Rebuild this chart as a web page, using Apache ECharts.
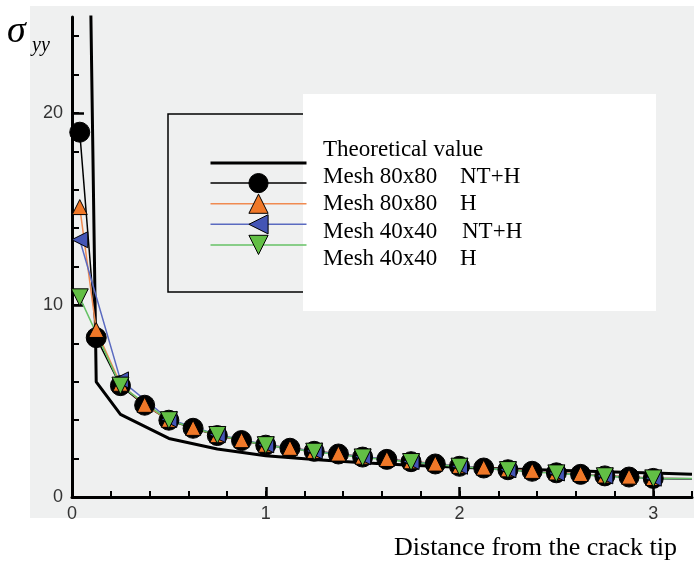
<!DOCTYPE html>
<html>
<head>
<meta charset="utf-8">
<script src="https://cdn.jsdelivr.net/npm/echarts@6/dist/echarts.min.js"></script>
<style>
  html, body { margin: 0; padding: 0; background: #fff; }
  #chart { width: 694px; height: 565px; }
</style>
</head>
<body>
<div id="chart"></div>
<script>
// sigma_yy ahead of the crack tip: theory vs. two mesh sizes, with/without NT.

const theoryX = [0.05, 0.125, 0.25, 0.5, 0.75, 1.0, 1.25, 1.5, 1.75, 2.0, 2.25, 2.5, 2.75, 3.0, 3.2];
const theoryY = [58, 6.0, 4.3, 3.05, 2.5, 2.15, 1.95, 1.78, 1.65, 1.55, 1.46, 1.39, 1.32, 1.25, 1.18];

// 80x80 mesh sample points (marker at every one but the last)
const fineX = [0.04, 0.125, 0.25, 0.375, 0.5, 0.625, 0.75, 0.875, 1.0, 1.125, 1.25, 1.375, 1.5,
               1.625, 1.75, 1.875, 2.0, 2.125, 2.25, 2.375, 2.5, 2.625, 2.75, 2.875, 3.0, 3.2];
const fineNTH = [19.0, 8.3, 5.8, 4.78, 4.0, 3.58, 3.2, 2.94, 2.7, 2.54, 2.38, 2.24, 2.08, 1.96, 1.84,
                 1.72, 1.6, 1.51, 1.42, 1.34, 1.26, 1.18, 1.1, 1.04, 0.97, 0.92];
const fineH = [15.1, 8.7, 5.9, 4.8, 4.02, 3.6, 3.22, 2.96, 2.72, 2.56, 2.4, 2.26, 2.1, 1.98, 1.86,
               1.74, 1.62, 1.53, 1.44, 1.36, 1.28, 1.2, 1.12, 1.06, 0.99, 0.95];

// 40x40 mesh sample points
const coarseX = [0.04, 0.25, 0.5, 0.75, 1.0, 1.25, 1.5, 1.75, 2.0, 2.25, 2.5, 2.75, 3.0, 3.2];
const coarseNTH = [13.4, 6.1, 4.05, 3.25, 2.72, 2.4, 2.1, 1.85, 1.6, 1.42, 1.25, 1.1, 0.98, 0.95];
const coarseH = [10.4, 5.8, 4.0, 3.23, 2.7, 2.36, 2.06, 1.82, 1.58, 1.4, 1.23, 1.08, 0.97, 0.96];

const names = ['Theoretical value', 'Mesh 80x80   NT+H', 'Mesh 80x80   H', 'Mesh 40x40   NT+H', 'Mesh 40x40   H'];

const pairs = (xs, ys) => xs.map((x, i) =>
  i === xs.length - 1 ? { value: [x, ys[i]], symbol: 'none' } : [x, ys[i]]);

const LABEL = { color: '#333', fontSize: 18, fontFamily: 'Liberation Sans' };
const SERIF = '"Liberation Serif", "Times New Roman", serif';

function markSeries(name, xs, ys, opts) {
  return {
    name, type: 'line', xAxisIndex: 0, yAxisIndex: 0,
    data: pairs(xs, ys), showSymbol: true, showAllSymbol: true,
    symbol: opts.symbol, symbolSize: opts.size, symbolRotate: opts.rotate || 0,
    lineStyle: { color: opts.line, width: 1.5 },
    itemStyle: { color: opts.fill, borderColor: '#000', borderWidth: 1 },
    emphasis: { disabled: true },
  };
}

const chart = echarts.init(document.getElementById('chart'));
chart.setOption({
  animation: false,
  backgroundColor: '#fff',
  grid: [
    // A: data + axis lines
    { left: 72, top: 17, width: 620, height: 480, outerBoundsMode: 'none', containLabel: false },
    // B: minor ticks (0..3.2 x 0..24)
    { left: 72, top: 36.2, width: 620, height: 460.8, outerBoundsMode: 'none', containLabel: false },
    // C: major ticks + labels (0..3 x 0..20)
    { left: 72, top: 113, width: 581.25, height: 384, outerBoundsMode: 'none', containLabel: false },
  ],
  xAxis: [
    { type: 'value', gridIndex: 0, min: 0, max: 3.2,
      axisLine: { show: true, lineStyle: { color: '#000', width: 3 } },
      axisTick: { show: false }, axisLabel: { show: false }, splitLine: { show: false } },
    { type: 'value', gridIndex: 1, min: 0, max: 3.2, interval: 0.2,
      axisLine: { show: false },
      axisTick: { show: true, inside: true, length: 6, lineStyle: { color: '#000', width: 2 } },
      axisLabel: { show: false }, splitLine: { show: false } },
    { type: 'value', gridIndex: 2, min: 0, max: 3, interval: 1,
      axisLine: { show: false },
      axisTick: { show: true, inside: true, length: 10, lineStyle: { color: '#000', width: 2.5 } },
      axisLabel: { ...LABEL, margin: 8 }, splitLine: { show: false } },
  ],
  yAxis: [
    { type: 'value', gridIndex: 0, min: 0, max: 25,
      axisLine: { show: true, lineStyle: { color: '#000', width: 3 } },
      axisTick: { show: false }, axisLabel: { show: false }, splitLine: { show: false } },
    { type: 'value', gridIndex: 1, min: 0, max: 24, interval: 2,
      axisLine: { show: false },
      axisTick: { show: true, inside: true, length: 7, lineStyle: { color: '#000', width: 2 } },
      axisLabel: { show: false }, splitLine: { show: false } },
    { type: 'value', gridIndex: 2, min: 0, max: 20, interval: 10,
      axisLine: { show: false },
      axisTick: { show: true, inside: true, length: 12, lineStyle: { color: '#000', width: 2.5 } },
      axisLabel: { ...LABEL, margin: 9 }, splitLine: { show: false } },
  ],
  legend: {
    orient: 'vertical', left: 209, top: 151, padding: 0, z: 5,
    itemWidth: 96, itemHeight: 24, itemGap: -1.5, selectedMode: false,
    formatter: () => '',
    data: [
      { name: names[0], itemStyle: { opacity: 0 }, lineStyle: { width: 3, color: '#000' } },
      { name: names[1], lineStyle: { width: 1.5, color: '#000' }, itemStyle: { borderWidth: 1, borderColor: '#000' } },
      { name: names[2], lineStyle: { width: 1.5, color: '#f08a50' }, itemStyle: { borderWidth: 1, borderColor: '#000' } },
      { name: names[3], lineStyle: { width: 1.5, color: '#5a6ac0' }, itemStyle: { borderWidth: 1, borderColor: '#000' } },
      { name: names[4], lineStyle: { width: 1.5, color: '#66c266' }, itemStyle: { borderWidth: 1, borderColor: '#000' } },
    ],
  },
  graphic: [
    { type: 'rect', z: -10, silent: true, shape: { x: 30, y: 6, width: 664, height: 512 }, style: { fill: '#eff0f0' } },
    { type: 'rect', z: 1, silent: true, shape: { x: 168, y: 114, width: 200, height: 178 },
      style: { fill: 'none', stroke: '#000', lineWidth: 1.5 } },
    { type: 'rect', z: 2, silent: true, shape: { x: 303, y: 94, width: 353, height: 217 }, style: { fill: '#fff' } },
    { type: 'text', z: 6, silent: true, style: { text: 'Theoretical value', x: 323, y: 150, font: '23px ' + SERIF, fill: '#000', verticalAlign: 'middle' } },
    { type: 'text', z: 6, silent: true, style: { text: 'Mesh 80x80', x: 323, y: 177, font: '23px ' + SERIF, fill: '#000', verticalAlign: 'middle' } },
    { type: 'text', z: 6, silent: true, style: { text: 'NT+H', x: 460, y: 177, font: '23px ' + SERIF, fill: '#000', verticalAlign: 'middle' } },
    { type: 'text', z: 6, silent: true, style: { text: 'Mesh 80x80', x: 323, y: 204, font: '23px ' + SERIF, fill: '#000', verticalAlign: 'middle' } },
    { type: 'text', z: 6, silent: true, style: { text: 'H', x: 460, y: 204, font: '23px ' + SERIF, fill: '#000', verticalAlign: 'middle' } },
    { type: 'text', z: 6, silent: true, style: { text: 'Mesh 40x40', x: 323, y: 232, font: '23px ' + SERIF, fill: '#000', verticalAlign: 'middle' } },
    { type: 'text', z: 6, silent: true, style: { text: 'NT+H', x: 462, y: 232, font: '23px ' + SERIF, fill: '#000', verticalAlign: 'middle' } },
    { type: 'text', z: 6, silent: true, style: { text: 'Mesh 40x40', x: 323, y: 259, font: '23px ' + SERIF, fill: '#000', verticalAlign: 'middle' } },
    { type: 'text', z: 6, silent: true, style: { text: 'H', x: 460, y: 259, font: '23px ' + SERIF, fill: '#000', verticalAlign: 'middle' } },
    // axis titles
    { type: 'text', z: 6, silent: true, style: { text: 'σ', x: 7, y: 32, font: 'italic 38px ' + SERIF, fill: '#000', verticalAlign: 'middle' } },
    { type: 'text', z: 6, silent: true, style: { text: 'yy', x: 32, y: 46, font: 'italic 20px ' + SERIF, fill: '#000', verticalAlign: 'middle' } },
    { type: 'text', z: 6, silent: true, style: { text: 'Distance from the crack tip', x: 677, y: 548, font: '26px ' + SERIF, fill: '#000', align: 'right', verticalAlign: 'middle' } },
  ],
  series: [
    { name: names[0], type: 'line', xAxisIndex: 0, yAxisIndex: 0, symbol: 'none',
      data: theoryX.map((x, i) => [x, theoryY[i]]),
      lineStyle: { color: '#000', width: 3 }, itemStyle: { color: '#000' }, emphasis: { disabled: true } },
    markSeries(names[1], fineX, fineNTH, { symbol: 'circle', size: 20, fill: '#000', line: '#000' }),
    markSeries(names[2], fineX, fineH, { symbol: 'triangle', size: 15, fill: '#f07828', line: '#f08a50' }),
    markSeries(names[3], coarseX, coarseNTH, { symbol: 'triangle', size: 16, rotate: 90, fill: '#4455b5', line: '#5a6ac0' }),
    markSeries(names[4], coarseX, coarseH, { symbol: 'triangle', size: 17, rotate: 180, fill: '#62bf45', line: '#66c266' }),
  ],
});
</script>
</body>
</html>
